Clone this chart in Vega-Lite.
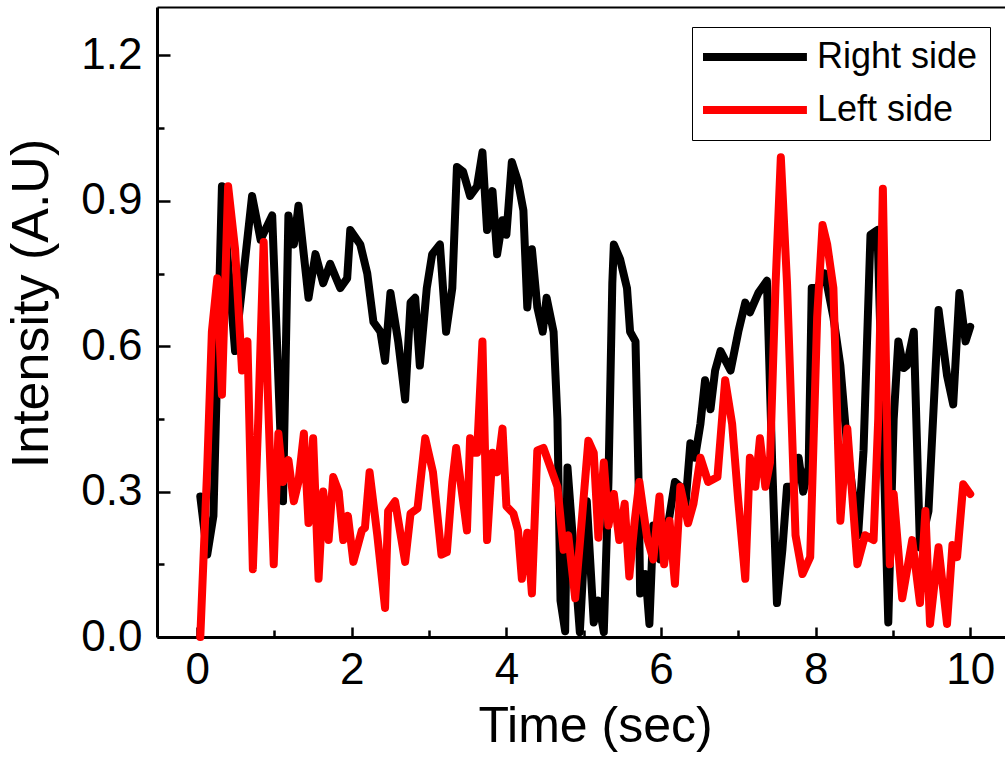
{
  "$schema": "https://vega.github.io/schema/vega-lite/v6.json",
  "width": 848,
  "height": 630,
  "autosize": {"type": "none"},
  "padding": {"left": 157, "top": 7, "right": 0, "bottom": 120},
  "background": "white",
  "config": {"view": {"stroke": null}, "font": "Liberation Sans"},
  "datasets": {
    "d": [
      {"t":0.04,"v":0.29,"s":"Right side"},{"t":0.13,"v":0.17,"s":"Right side"},{"t":0.21,"v":0.25,"s":"Right side"},{"t":0.32,"v":0.93,"s":"Right side"},{"t":0.49,"v":0.59,"s":"Right side"},{"t":0.71,"v":0.91,"s":"Right side"},{"t":0.82,"v":0.82,"s":"Right side"},{"t":0.97,"v":0.87,"s":"Right side"},{"t":1.11,"v":0.28,"s":"Right side"},{"t":1.18,"v":0.87,"s":"Right side"},{"t":1.25,"v":0.81,"s":"Right side"},{"t":1.31,"v":0.89,"s":"Right side"},{"t":1.44,"v":0.70,"s":"Right side"},{"t":1.53,"v":0.79,"s":"Right side"},{"t":1.63,"v":0.73,"s":"Right side"},{"t":1.72,"v":0.77,"s":"Right side"},{"t":1.85,"v":0.72,"s":"Right side"},{"t":1.94,"v":0.74,"s":"Right side"},{"t":1.98,"v":0.84,"s":"Right side"},{"t":2.11,"v":0.81,"s":"Right side"},{"t":2.20,"v":0.75,"s":"Right side"},{"t":2.28,"v":0.65,"s":"Right side"},{"t":2.37,"v":0.63,"s":"Right side"},{"t":2.43,"v":0.57,"s":"Right side"},{"t":2.50,"v":0.71,"s":"Right side"},{"t":2.60,"v":0.61,"s":"Right side"},{"t":2.69,"v":0.49,"s":"Right side"},{"t":2.76,"v":0.69,"s":"Right side"},{"t":2.82,"v":0.70,"s":"Right side"},{"t":2.88,"v":0.56,"s":"Right side"},{"t":2.97,"v":0.72,"s":"Right side"},{"t":3.04,"v":0.79,"s":"Right side"},{"t":3.14,"v":0.81,"s":"Right side"},{"t":3.22,"v":0.63,"s":"Right side"},{"t":3.30,"v":0.72,"s":"Right side"},{"t":3.36,"v":0.97,"s":"Right side"},{"t":3.44,"v":0.96,"s":"Right side"},{"t":3.53,"v":0.91,"s":"Right side"},{"t":3.62,"v":0.93,"s":"Right side"},{"t":3.69,"v":1.00,"s":"Right side"},{"t":3.75,"v":0.84,"s":"Right side"},{"t":3.82,"v":0.92,"s":"Right side"},{"t":3.88,"v":0.79,"s":"Right side"},{"t":3.95,"v":0.86,"s":"Right side"},{"t":4.00,"v":0.83,"s":"Right side"},{"t":4.07,"v":0.98,"s":"Right side"},{"t":4.15,"v":0.94,"s":"Right side"},{"t":4.22,"v":0.88,"s":"Right side"},{"t":4.27,"v":0.68,"s":"Right side"},{"t":4.33,"v":0.80,"s":"Right side"},{"t":4.40,"v":0.68,"s":"Right side"},{"t":4.47,"v":0.63,"s":"Right side"},{"t":4.52,"v":0.70,"s":"Right side"},{"t":4.61,"v":0.63,"s":"Right side"},{"t":4.66,"v":0.45,"s":"Right side"},{"t":4.70,"v":0.075,"s":"Right side"},{"t":4.76,"v":0.012,"s":"Right side"},{"t":4.79,"v":0.35,"s":"Right side"},{"t":4.87,"v":0.18,"s":"Right side"},{"t":4.95,"v":0.01,"s":"Right side"},{"t":5.04,"v":0.28,"s":"Right side"},{"t":5.13,"v":0.03,"s":"Right side"},{"t":5.19,"v":0.075,"s":"Right side"},{"t":5.26,"v":0.01,"s":"Right side"},{"t":5.32,"v":0.32,"s":"Right side"},{"t":5.37,"v":0.73,"s":"Right side"},{"t":5.39,"v":0.81,"s":"Right side"},{"t":5.47,"v":0.78,"s":"Right side"},{"t":5.56,"v":0.72,"s":"Right side"},{"t":5.60,"v":0.63,"s":"Right side"},{"t":5.67,"v":0.61,"s":"Right side"},{"t":5.71,"v":0.32,"s":"Right side"},{"t":5.73,"v":0.09,"s":"Right side"},{"t":5.80,"v":0.13,"s":"Right side"},{"t":5.85,"v":0.027,"s":"Right side"},{"t":5.90,"v":0.23,"s":"Right side"},{"t":5.99,"v":0.16,"s":"Right side"},{"t":6.10,"v":0.24,"s":"Right side"},{"t":6.18,"v":0.32,"s":"Right side"},{"t":6.25,"v":0.31,"s":"Right side"},{"t":6.31,"v":0.26,"s":"Right side"},{"t":6.38,"v":0.40,"s":"Right side"},{"t":6.44,"v":0.37,"s":"Right side"},{"t":6.51,"v":0.44,"s":"Right side"},{"t":6.57,"v":0.53,"s":"Right side"},{"t":6.64,"v":0.47,"s":"Right side"},{"t":6.70,"v":0.55,"s":"Right side"},{"t":6.77,"v":0.59,"s":"Right side"},{"t":6.90,"v":0.55,"s":"Right side"},{"t":7.00,"v":0.63,"s":"Right side"},{"t":7.09,"v":0.69,"s":"Right side"},{"t":7.15,"v":0.67,"s":"Right side"},{"t":7.26,"v":0.71,"s":"Right side"},{"t":7.37,"v":0.735,"s":"Right side"},{"t":7.44,"v":0.35,"s":"Right side"},{"t":7.50,"v":0.07,"s":"Right side"},{"t":7.57,"v":0.18,"s":"Right side"},{"t":7.63,"v":0.31,"s":"Right side"},{"t":7.71,"v":0.31,"s":"Right side"},{"t":7.78,"v":0.37,"s":"Right side"},{"t":7.84,"v":0.30,"s":"Right side"},{"t":7.91,"v":0.35,"s":"Right side"},{"t":7.95,"v":0.72,"s":"Right side"},{"t":8.02,"v":0.72,"s":"Right side"},{"t":8.12,"v":0.75,"s":"Right side"},{"t":8.23,"v":0.66,"s":"Right side"},{"t":8.32,"v":0.56,"s":"Right side"},{"t":8.41,"v":0.39,"s":"Right side"},{"t":8.55,"v":0.21,"s":"Right side"},{"t":8.62,"v":0.385,"s":"Right side"},{"t":8.71,"v":0.83,"s":"Right side"},{"t":8.80,"v":0.84,"s":"Right side"},{"t":8.88,"v":0.385,"s":"Right side"},{"t":8.94,"v":0.03,"s":"Right side"},{"t":9.01,"v":0.45,"s":"Right side"},{"t":9.07,"v":0.61,"s":"Right side"},{"t":9.14,"v":0.555,"s":"Right side"},{"t":9.18,"v":0.56,"s":"Right side"},{"t":9.27,"v":0.63,"s":"Right side"},{"t":9.35,"v":0.185,"s":"Right side"},{"t":9.46,"v":0.26,"s":"Right side"},{"t":9.59,"v":0.675,"s":"Right side"},{"t":9.70,"v":0.54,"s":"Right side"},{"t":9.78,"v":0.48,"s":"Right side"},{"t":9.86,"v":0.71,"s":"Right side"},{"t":9.94,"v":0.61,"s":"Right side"},{"t":10.0,"v":0.64,"s":"Right side"},
      {"t":0.04,"v":0.0,"s":"Left side"},{"t":0.13,"v":0.35,"s":"Left side"},{"t":0.19,"v":0.63,"s":"Left side"},{"t":0.26,"v":0.74,"s":"Left side"},{"t":0.32,"v":0.50,"s":"Left side"},{"t":0.40,"v":0.93,"s":"Left side"},{"t":0.49,"v":0.80,"s":"Left side"},{"t":0.58,"v":0.55,"s":"Left side"},{"t":0.65,"v":0.61,"s":"Left side"},{"t":0.72,"v":0.14,"s":"Left side"},{"t":0.79,"v":0.45,"s":"Left side"},{"t":0.86,"v":0.815,"s":"Left side"},{"t":0.91,"v":0.52,"s":"Left side"},{"t":0.99,"v":0.15,"s":"Left side"},{"t":1.05,"v":0.42,"s":"Left side"},{"t":1.11,"v":0.32,"s":"Left side"},{"t":1.18,"v":0.365,"s":"Left side"},{"t":1.25,"v":0.28,"s":"Left side"},{"t":1.31,"v":0.32,"s":"Left side"},{"t":1.38,"v":0.42,"s":"Left side"},{"t":1.44,"v":0.235,"s":"Left side"},{"t":1.50,"v":0.41,"s":"Left side"},{"t":1.57,"v":0.12,"s":"Left side"},{"t":1.63,"v":0.30,"s":"Left side"},{"t":1.70,"v":0.20,"s":"Left side"},{"t":1.76,"v":0.33,"s":"Left side"},{"t":1.83,"v":0.30,"s":"Left side"},{"t":1.89,"v":0.20,"s":"Left side"},{"t":1.95,"v":0.25,"s":"Left side"},{"t":2.02,"v":0.155,"s":"Left side"},{"t":2.13,"v":0.22,"s":"Left side"},{"t":2.17,"v":0.225,"s":"Left side"},{"t":2.23,"v":0.34,"s":"Left side"},{"t":2.33,"v":0.21,"s":"Left side"},{"t":2.43,"v":0.06,"s":"Left side"},{"t":2.47,"v":0.26,"s":"Left side"},{"t":2.56,"v":0.28,"s":"Left side"},{"t":2.69,"v":0.155,"s":"Left side"},{"t":2.76,"v":0.255,"s":"Left side"},{"t":2.85,"v":0.265,"s":"Left side"},{"t":2.95,"v":0.41,"s":"Left side"},{"t":3.05,"v":0.34,"s":"Left side"},{"t":3.16,"v":0.17,"s":"Left side"},{"t":3.23,"v":0.175,"s":"Left side"},{"t":3.30,"v":0.32,"s":"Left side"},{"t":3.35,"v":0.39,"s":"Left side"},{"t":3.49,"v":0.22,"s":"Left side"},{"t":3.53,"v":0.41,"s":"Left side"},{"t":3.57,"v":0.38,"s":"Left side"},{"t":3.62,"v":0.38,"s":"Left side"},{"t":3.69,"v":0.61,"s":"Left side"},{"t":3.75,"v":0.20,"s":"Left side"},{"t":3.82,"v":0.38,"s":"Left side"},{"t":3.88,"v":0.34,"s":"Left side"},{"t":3.95,"v":0.43,"s":"Left side"},{"t":4.00,"v":0.27,"s":"Left side"},{"t":4.09,"v":0.255,"s":"Left side"},{"t":4.15,"v":0.22,"s":"Left side"},{"t":4.20,"v":0.12,"s":"Left side"},{"t":4.27,"v":0.215,"s":"Left side"},{"t":4.33,"v":0.09,"s":"Left side"},{"t":4.40,"v":0.385,"s":"Left side"},{"t":4.48,"v":0.39,"s":"Left side"},{"t":4.57,"v":0.35,"s":"Left side"},{"t":4.66,"v":0.31,"s":"Left side"},{"t":4.74,"v":0.18,"s":"Left side"},{"t":4.80,"v":0.21,"s":"Left side"},{"t":4.89,"v":0.08,"s":"Left side"},{"t":4.98,"v":0.25,"s":"Left side"},{"t":5.06,"v":0.405,"s":"Left side"},{"t":5.13,"v":0.38,"s":"Left side"},{"t":5.19,"v":0.205,"s":"Left side"},{"t":5.26,"v":0.36,"s":"Left side"},{"t":5.32,"v":0.23,"s":"Left side"},{"t":5.39,"v":0.295,"s":"Left side"},{"t":5.46,"v":0.20,"s":"Left side"},{"t":5.53,"v":0.275,"s":"Left side"},{"t":5.59,"v":0.125,"s":"Left side"},{"t":5.66,"v":0.24,"s":"Left side"},{"t":5.72,"v":0.32,"s":"Left side"},{"t":5.82,"v":0.205,"s":"Left side"},{"t":5.90,"v":0.16,"s":"Left side"},{"t":5.98,"v":0.29,"s":"Left side"},{"t":6.04,"v":0.15,"s":"Left side"},{"t":6.11,"v":0.24,"s":"Left side"},{"t":6.18,"v":0.11,"s":"Left side"},{"t":6.25,"v":0.31,"s":"Left side"},{"t":6.35,"v":0.235,"s":"Left side"},{"t":6.42,"v":0.275,"s":"Left side"},{"t":6.51,"v":0.37,"s":"Left side"},{"t":6.61,"v":0.32,"s":"Left side"},{"t":6.73,"v":0.33,"s":"Left side"},{"t":6.83,"v":0.53,"s":"Left side"},{"t":6.92,"v":0.44,"s":"Left side"},{"t":7.00,"v":0.28,"s":"Left side"},{"t":7.09,"v":0.12,"s":"Left side"},{"t":7.15,"v":0.37,"s":"Left side"},{"t":7.22,"v":0.31,"s":"Left side"},{"t":7.28,"v":0.41,"s":"Left side"},{"t":7.35,"v":0.31,"s":"Left side"},{"t":7.41,"v":0.36,"s":"Left side"},{"t":7.48,"v":0.72,"s":"Left side"},{"t":7.55,"v":0.99,"s":"Left side"},{"t":7.63,"v":0.73,"s":"Left side"},{"t":7.74,"v":0.21,"s":"Left side"},{"t":7.83,"v":0.13,"s":"Left side"},{"t":7.93,"v":0.165,"s":"Left side"},{"t":8.02,"v":0.66,"s":"Left side"},{"t":8.09,"v":0.85,"s":"Left side"},{"t":8.15,"v":0.81,"s":"Left side"},{"t":8.23,"v":0.72,"s":"Left side"},{"t":8.32,"v":0.24,"s":"Left side"},{"t":8.41,"v":0.43,"s":"Left side"},{"t":8.54,"v":0.15,"s":"Left side"},{"t":8.64,"v":0.21,"s":"Left side"},{"t":8.75,"v":0.20,"s":"Left side"},{"t":8.81,"v":0.45,"s":"Left side"},{"t":8.87,"v":0.925,"s":"Left side"},{"t":8.93,"v":0.385,"s":"Left side"},{"t":8.96,"v":0.15,"s":"Left side"},{"t":9.01,"v":0.295,"s":"Left side"},{"t":9.12,"v":0.08,"s":"Left side"},{"t":9.25,"v":0.20,"s":"Left side"},{"t":9.35,"v":0.07,"s":"Left side"},{"t":9.42,"v":0.26,"s":"Left side"},{"t":9.48,"v":0.027,"s":"Left side"},{"t":9.59,"v":0.185,"s":"Left side"},{"t":9.70,"v":0.027,"s":"Left side"},{"t":9.77,"v":0.19,"s":"Left side"},{"t":9.83,"v":0.165,"s":"Left side"},{"t":9.91,"v":0.315,"s":"Left side"},{"t":10.0,"v":0.295,"s":"Left side"}
    ]
  },
  "data": {"name": "d"},
  "layer": [
    {
      "mark": {"type": "line", "strokeWidth": 8, "strokeJoin": "round", "strokeCap": "round"},
      "encoding": {
        "x": {"field": "t", "type": "quantitative",
          "scale": {"domain": [-0.52, 10.45], "nice": false, "zero": false},
          "axis": {"orient": "bottom", "values": [0, 2, 4, 6, 8, 10], "format": "d", "title": "Time (sec)", "grid": false,
            "domainColor": "black", "domainWidth": 3, "tickColor": "black", "tickWidth": 2.5, "tickSize": -10,
            "labelFont": "Liberation Sans", "labelFontSize": 44, "labelColor": "black", "labelPadding": 21, "labelFlush": false, "labelOverlap": false,
            "titleFont": "Liberation Sans", "titleFontSize": 50, "titleFontWeight": "normal", "titleColor": "black", "titlePadding": 9, "titleX": 438}},
        "y": {"field": "v", "type": "quantitative",
          "scale": {"domain": [0, 1.3], "nice": false},
          "axis": {"orient": "left", "values": [0, 0.3, 0.6, 0.9, 1.2], "format": ".1f", "title": "Intensity (A.U)", "grid": false,
            "domainColor": "black", "domainWidth": 3, "tickColor": "black", "tickWidth": 2.5, "tickSize": -13,
            "labelFont": "Liberation Sans", "labelFontSize": 44, "labelColor": "black", "labelPadding": 28, "labelOverlap": false,
            "titleFont": "Liberation Sans", "titleFontSize": 52, "titleFontWeight": "normal", "titleColor": "black", "titlePadding": 22, "titleY": 296}},
        "color": {"field": "s", "type": "nominal",
          "scale": {"domain": ["Right side", "Left side"], "range": ["#000000", "#ff0000"]},
          "legend": {"title": null, "orient": "none", "legendX": 535, "legendY": 20,
            "symbolType": "M0,0H10", "symbolSize": 432, "symbolStrokeWidth": 8,
            "labelFont": "Liberation Sans", "labelFontSize": 36, "labelColor": "black", "labelLimit": 400,
            "strokeColor": "black", "fillColor": "white", "padding": 12, "rowPadding": 17, "labelOffset": 96, "symbolOffset": -19}}
      }
    },
    {
      "mark": {"type": "line", "opacity": 0},
      "encoding": {
        "detail": {"field": "s"},
        "x": {"field": "t", "type": "quantitative",
          "axis": {"orient": "bottom", "values": [1, 3, 5, 7, 9], "labels": false, "domain": false, "title": null, "grid": false,
            "tickColor": "black", "tickWidth": 2.5, "tickSize": -7}},
        "y": {"field": "v", "type": "quantitative",
          "axis": {"orient": "left", "values": [0.15, 0.45, 0.75, 1.05], "labels": false, "domain": false, "title": null, "grid": false,
            "tickColor": "black", "tickWidth": 2.5, "tickSize": -7}}
      }
    },
    {
      "mark": {"type": "line", "opacity": 0},
      "encoding": {
        "detail": {"field": "s"},
        "x": {"field": "t", "type": "quantitative",
          "axis": {"orient": "top", "labels": false, "ticks": false, "title": null, "grid": false, "domainColor": "black", "domainWidth": 2}},
        "y": {"field": "v", "type": "quantitative", "axis": null}
      }
    }
  ],
  "resolve": {"axis": {"x": "independent", "y": "independent"}}
}
